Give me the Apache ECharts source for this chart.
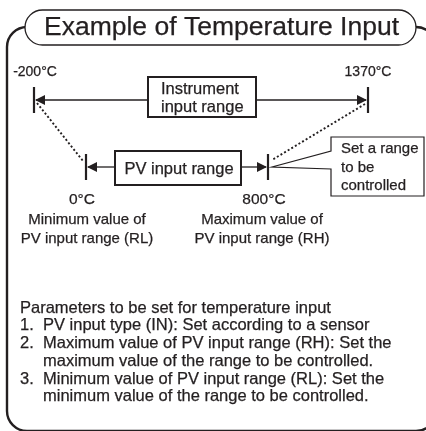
<!DOCTYPE html>
<html>
<head>
<meta charset="utf-8">
<script src="https://cdn.jsdelivr.net/npm/echarts@6/dist/echarts.min.js"></script>
<style>
html,body{margin:0;padding:0;background:#fff;}
#chart{width:426px;height:431px;}
</style>
</head>
<body>
<div id="chart"></div>
<script>
// ---- content (data) ----
const titleText = 'Example of Temperature Input';
const rangeNames = [['Instrument', 'input range'], ['PV input range']];
const rangeLow = ['-200°C', '0°C'];
const rangeHigh = ['1370°C', '800°C'];
const lowNotes = [[], ['Minimum value of', 'PV input range (RL)']];
const highNotes = [[], ['Maximum value of', 'PV input range (RH)']];
const calloutText = ['Set a range', 'to be', 'controlled'];
const paramHeading = 'Parameters to be set for temperature input';
const paramNumbers = ['1.', '2.', '', '3.', ''];
const paramTexts = [
  'PV input type (IN): Set according to a sensor',
  'Maximum value of PV input range (RH): Set the',
  'maximum value of the range to be controlled.',
  'Minimum value of PV input range (RL): Set the',
  'minimum value of the range to be controlled.'
];

// ---- layout (schematic diagram units, not to scale) ----
const LAYOUT = {
  ranges: [
    { y: 100, x0: 34, x1: 368, box: [148, 77, 256, 117], tick: 13,
      lowLbl: [35, 72], highLbl: [368, 72], tempSize: 14, boxSize: 16.5, boxLh: 18,
      boxTextX: 161, noteLh: 19 },
    { y: 167, x0: 86, x1: 268, box: [115, 151, 241, 185], tick: 13,
      lowLbl: [82, 200], highLbl: [264, 200], tempSize: 15.5, boxSize: 16.5, boxLh: 18,
      boxTextX: null, lowNote: [87, 220], highNote: [262, 220], noteLh: 19 }
  ],
  dotted: [[[37, 103], [83, 161]], [[365, 104], [272, 160]]],
  callout: { box: [331, 137, 424, 196], tip: [272, 167], gap: [151, 169], text: [341, 149], lh: 18.5, size: 15 },
  frame: { x: 7, y: 27, w: 429, h: 404, r: 20 },
  pill: { x: 25, y: 10, w: 391, h: 35 },
  para: { x: 20, xi: 43, y: 308, lh: 17.75, size: 16.5 }
};
const INK = '#231f20';
const FONT = '"Liberation Sans", Arial, Helvetica, sans-serif';

const chart = echarts.init(document.getElementById('chart'), null, { renderer: 'canvas' });

function txt(x, y, s, size, align) {
  return { type: 'text', x: x, y: y, style: { text: s, font: size + 'px ' + FONT, fill: INK,
    stroke: INK, lineWidth: 0.25, align: align || 'center', verticalAlign: 'middle' } };
}

function tri(api, tip, dir, y) {
  const a = api.coord([tip, y]);
  const L = 10, H = 5;
  return { type: 'polygon', shape: { points: [[a[0], a[1]], [a[0] - dir * L, a[1] - H], [a[0] - dir * L, a[1] + H]] },
           style: { fill: INK } };
}

function renderRange(params, api) {
  const i = api.value(0);
  const R = LAYOUT.ranges[i];
  const ch = [];
  const p0 = api.coord([R.x0, R.y]), p1 = api.coord([R.x1, R.y]);
  const b0 = api.coord([R.box[0], R.box[1]]), b1 = api.coord([R.box[2], R.box[3]]);
  [p0, p1].forEach(p => ch.push({ type: 'line', shape: { x1: p[0], y1: p[1] - R.tick, x2: p[0], y2: p[1] + R.tick },
    style: { stroke: INK, lineWidth: 2.2 } }));
  ch.push({ type: 'line', shape: { x1: p0[0] + 2, y1: p0[1], x2: b0[0], y2: p0[1] }, style: { stroke: INK, lineWidth: 1.3 } });
  ch.push({ type: 'line', shape: { x1: b1[0], y1: p1[1], x2: p1[0] - 2, y2: p1[1] }, style: { stroke: INK, lineWidth: 1.3 } });
  ch.push(tri(api, R.x0 + 1, -1, R.y));
  ch.push(tri(api, R.x1 - 1, 1, R.y));
  ch.push({ type: 'rect', shape: { x: b0[0], y: b0[1], width: b1[0] - b0[0], height: b1[1] - b0[1] },
    style: { fill: '#fff', stroke: INK, lineWidth: 2 } });
  const names = rangeNames[i];
  const cx = (b0[0] + b1[0]) / 2 + 1, cy = (b0[1] + b1[1]) / 2 + 1;
  names.forEach((s, k) => {
    const yy = cy + (k - (names.length - 1) / 2) * R.boxLh;
    if (R.boxTextX !== null) ch.push(txt(api.coord([R.boxTextX, 0])[0], yy, s, R.boxSize, 'left'));
    else ch.push(txt(cx, yy, s, R.boxSize));
  });
  const lo = api.coord(R.lowLbl), hi = api.coord(R.highLbl);
  ch.push(txt(lo[0], lo[1], rangeLow[i], R.tempSize));
  ch.push(txt(hi[0], hi[1], rangeHigh[i], R.tempSize));
  if (lowNotes[i].length) {
    const ln = api.coord(R.lowNote), hn = api.coord(R.highNote);
    lowNotes[i].forEach((s, k) => ch.push(txt(ln[0], ln[1] + k * R.noteLh, s, 15)));
    highNotes[i].forEach((s, k) => ch.push(txt(hn[0], hn[1] + k * R.noteLh, s, 15)));
  }
  return { type: 'group', children: ch };
}

function renderCallout(params, api) {
  const C = LAYOUT.callout;
  const tl = api.coord([C.box[0], C.box[1]]), br = api.coord([C.box[2], C.box[3]]);
  const tip = api.coord(C.tip);
  const g0 = api.coord([C.box[0], C.gap[0]]), g1 = api.coord([C.box[0], C.gap[1]]);
  const pts = [g0, tl, [br[0], tl[1]], br, [tl[0], br[1]], g1, tip, g0];
  const t = api.coord(C.text);
  const ch = [{ type: 'polygon', shape: { points: pts }, style: { fill: '#fff', stroke: INK, lineWidth: 1.2, lineJoin: 'miter' } }];
  calloutText.forEach((s, k) => ch.push(txt(t[0], t[1] + k * C.lh, s, C.size, 'left')));
  return { type: 'group', children: ch };
}

function renderDotted(params, api) {
  const d = LAYOUT.dotted[api.value(0)];
  const a = api.coord(d[0]), b = api.coord(d[1]);
  return { type: 'line', shape: { x1: a[0], y1: a[1], x2: b[0], y2: b[1] },
    style: { stroke: INK, lineWidth: 1.9, lineDash: [2, 2.2] } };
}

const F = LAYOUT.frame, P = LAYOUT.pill, PA = LAYOUT.para;
const graphics = [
  { type: 'rect', shape: { x: F.x, y: F.y, width: F.w, height: F.h, r: F.r }, style: { fill: 'none', stroke: INK, lineWidth: 2.4 }, z: 1 },
  { type: 'rect', shape: { x: P.x, y: P.y, width: P.w, height: P.h, r: P.h / 2 }, style: { fill: '#fff', stroke: INK, lineWidth: 1.3 }, z: 2 },
  Object.assign(txt(P.x + P.w / 2 + 1, P.y + P.h / 2, titleText, 26.5), { z: 3 }),
  Object.assign(txt(PA.x, PA.y, paramHeading, PA.size, 'left'), { z: 3 })
];
paramTexts.forEach((t, k) => {
  const y = PA.y + PA.lh * (k + 1);
  if (paramNumbers[k]) graphics.push(Object.assign(txt(PA.x, y, paramNumbers[k], PA.size, 'left'), { z: 3 }));
  graphics.push(Object.assign(txt(PA.xi, y, t, PA.size, 'left'), { z: 3 }));
});

chart.setOption({
  animation: false,
  backgroundColor: '#fff',
  grid: { left: 0, right: 0, top: 0, bottom: 0 },
  xAxis: { type: 'value', min: 0, max: 426, show: false },
  yAxis: { type: 'value', min: 0, max: 431, inverse: true, show: false },
  graphic: graphics,
  series: [
    { type: 'custom', name: 'guides', data: [[0], [1]], renderItem: renderDotted, z: 2, silent: true },
    { type: 'custom', name: 'ranges', data: [[0], [1]], renderItem: renderRange, z: 3, silent: true },
    { type: 'custom', name: 'callout', data: [[0]], renderItem: renderCallout, z: 4, silent: true }
  ]
});
</script>
</body>
</html>
